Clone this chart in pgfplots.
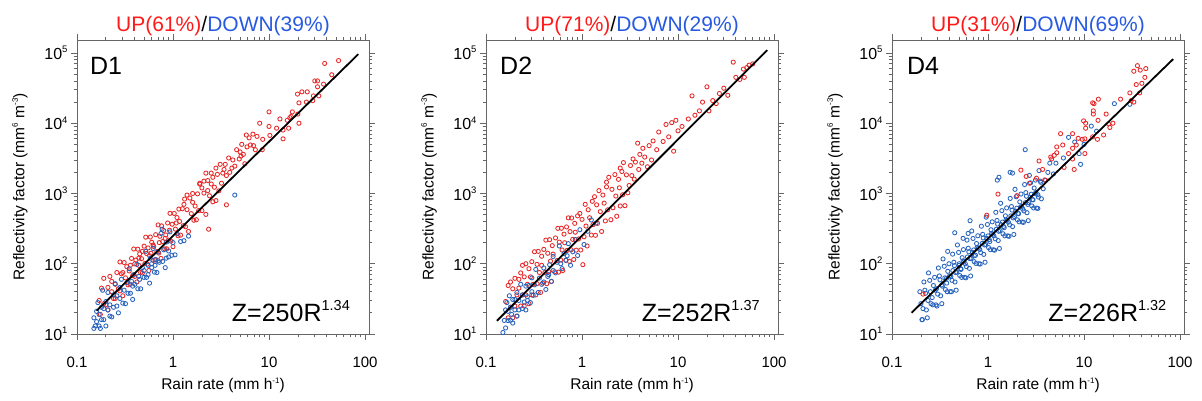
\documentclass[border=0pt]{standalone}
\usepackage{fontspec}
\setmainfont{Liberation Sans}
\usepackage{pgfplots}
\pgfplotsset{compat=1.18}
\definecolor{ptred}{RGB}{232,40,40}
\definecolor{ptblue}{RGB}{40,100,190}
\definecolor{tred}{RGB}{255,25,25}
\definecolor{tblue}{RGB}{40,90,225}
\newcommand{\supn}[1]{\raisebox{0.42em}{\fontsize{9.5}{9.5}\selectfont #1}}
\newcommand{\supl}[1]{\raisebox{0.42em}{\fontsize{8}{8}\selectfont #1}}
\newcommand{\supe}[1]{\raisebox{0.42em}{\fontsize{14.5}{14.5}\selectfont #1}}
\pgfplotsset{
  every axis/.append style={
    scale only axis, width=292pt, height=294pt,
    xmin=0.1, xmax=110, ymin=10, ymax=1.53e5,
    clip mode=individual,
    axis line style={draw=black!60, line width=0.9pt},
    tick style={black!60, line width=0.8pt},
    tick align=outside, major tick length=6pt, minor tick length=3.5pt,
    xtick={0.1,1,10,100}, xticklabels={0.1,1,10,100},
    ytick={10,100,1000,10000,100000},
    yticklabels={10\supn{1},10\supn{2},10\supn{3},10\supn{4},10\supn{5}},
    minor xtick={0.2,0.3,0.4,0.5,0.6,0.7,0.8,0.9,2,3,4,5,6,7,8,9,20,30,40,50,60,70,80,90},
    minor ytick={20,30,40,50,60,70,80,90,200,300,400,500,600,700,800,900,2000,3000,4000,5000,6000,7000,8000,9000,20000,30000,40000,50000,60000,70000,80000,90000},
    xticklabel style={font=\fontsize{15}{17}\selectfont, yshift=-14pt},
    yticklabel style={font=\fontsize{16}{18}\selectfont},
    xlabel={Rain rate (mm h\supl{-1})},
    ylabel={Reflectivity factor (mm\supl{6} m\supl{-3})},
    label style={font=\fontsize{15.5}{18}\selectfont},
    xlabel style={at={(axis description cs:0.5,-0.175)}, anchor=center},
    ylabel style={at={(axis description cs:-0.195,0.5)}, anchor=center},
  },
  upts/.style={only marks, mark=o, mark size=2.1pt, color=ptred, mark options={line width=0.85pt}},
  dpts/.style={only marks, mark=o, mark size=2.1pt, color=ptblue, mark options={line width=0.85pt}},
  fitl/.style={black, line width=1.8pt},
}
\begin{document}
\begin{tikzpicture}
\useasboundingbox (0,0) rectangle (1202pt,401pt);
% ---------------- D1 ----------------
\begin{loglogaxis}[at={(77pt,67pt)}, anchor=south west]
\addplot[upts] coordinates {
(0.17,30) (0.175,19) (0.18,45) (0.19,27) (0.19,62) (0.20,26) (0.21,46) (0.21,22) (0.22,66) (0.23,40) (0.23,56) (0.24,32) (0.25,51) (0.25,32) (0.26,75) (0.27,44) (0.28,106) (0.28,41) (0.29,72) (0.30,35)
(0.31,104) (0.32,63) (0.33,91) (0.34,50) (0.35,79) (0.36,51) (0.37,119) (0.38,68) (0.39,162) (0.40,66) (0.41,113) (0.42,55) (0.43,161) (0.44,95) (0.45,138) (0.46,75) (0.47,118) (0.48,74) (0.50,178) (0.51,101)
(0.52,239) (0.54,99) (0.55,168) (0.56,80) (0.58,240) (0.59,141) (0.60,202) (0.62,112) (0.63,176) (0.65,113) (0.66,259) (0.68,149) (0.70,357) (0.71,142) (0.73,246) (0.75,119) (0.76,346) (0.78,207) (0.80,298) (0.82,163)
(0.84,257) (0.86,163) (0.88,380) (0.90,217) (0.93,522) (0.95,210) (0.98,365) (1.0,175) (1.03,520) (1.06,311) (1.1,454) (1.13,250) (1.17,400) (1.2,255) (1.25,607) (1.28,348) (1.32,833) (1.35,336) (1.4,588) (1.45,288)
(1.5,860) (1.55,517) (1.6,750) (1.65,416) (1.7,662) (1.75,423) (1.8,988) (1.85,570) (1.9,1357) (2.0,570) (2.1,1014) (2.2,504) (2.3,1528) (2.4,929) (2.5,1365) (2.6,763) (2.7,1227) (2.8,793) (2.9,1872) (3.0,1090)
(2.5,1950) (2.2,1950) (2.35,310) (3.6,690) (0.36,95) (0.44,120) (0.53,140) (0.62,185) (0.72,200) (0.83,230) (0.92,300) (1.08,380) (0.57,130) (0.48,150) (0.40,100) (0.30,75)
(1.6,1000) (1.9,1400) (2.1,1500) (2.3,1100) (2.6,1700) (2.8,2300) (3.2,1400) (3.5,2600) (3.8,3200) (4.2,3000) (4.6,4200) (5.2,5000) (5.8,6800) (6.2,6200) (6.8,7000) (7.5,6500) (1.3,700) (1.4,950) (1.15,600) (2.0,1200)
(3.1,2600) (3.3,1950) (3.4,2200) (3.6,1800) (3.9,2000) (4.1,2300) (4.4,2450) (4.9,3100) (5.0,3900) (5.1,3400) (5.4,3600) (5.6,2650) (5.9,4600) (6.4,4900) (6.9,4800) (7.2,4200) (8.0,10000) (8.5,4200) (8.6,5900) (10,14500) (10,9000) (10.2,6700) (12,8500) (13,11500) (14,8000) (14,6000) (15.5,11000) (16,8500) (16.5,12000) (17,12500) (17.5,14500) (19.8,26000) (20,13500) (20.5,19500) (20.5,10000) (22,28000) (24.5,20000) (25,28000) (28.5,21000) (29,24500) (30,40000) (32,40000) (32,33000) (33,24500) (37,36000) (38,71000) (45,49000) (53,78000)
};
\addplot[dpts] coordinates {
(0.15,12) (0.15,17) (0.155,13) (0.16,21) (0.16,15) (0.165,28) (0.17,13) (0.17,19) (0.175,12) (0.18,24) (0.18,16) (0.185,42) (0.19,16) (0.19,23) (0.20,13) (0.20,29) (0.21,22) (0.21,39) (0.22,18) (0.22,26)
(0.23,17.5) (0.24,36) (0.24,24) (0.25,52) (0.26,25) (0.26,35) (0.27,20) (0.28,46) (0.28,32) (0.29,60) (0.30,27.5) (0.31,42) (0.32,27) (0.33,54) (0.34,38) (0.35,85) (0.36,38) (0.37,56) (0.38,31) (0.39,70)
(0.40,51) (0.42,98) (0.43,44) (0.44,66) (0.46,44) (0.48,88) (0.50,64) (0.52,150) (0.53,64) (0.55,95) (0.57,53) (0.58,120) (0.60,88) (0.62,165) (0.64,76) (0.66,115) (0.68,75) (0.70,147) (0.72,105) (0.75,270)
(0.78,108) (0.80,158) (0.83,88) (0.86,204) (0.90,152) (0.93,284) (0.97,132) (1.0,200) (1.05,134) (1.1,270) (1.2,207) (1.3,213) (1.45,247)
(0.77,310) (4.4,950) (0.45,60) (0.55,70) (0.65,95) (0.85,120) (0.50,80) (0.38,48) (0.60,100) (0.70,110) (0.90,125)
};
\addplot[fitl] coordinates {(0.16,21.4) (85,96000)};
\node[anchor=base west, inner sep=0, font=\fontsize{25}{30}\selectfont] at (rel axis cs:0.0445,0.881) {D1};
\node[anchor=base east, inner sep=0, font=\fontsize{25}{30}\selectfont] at (rel axis cs:0.935,0.044) {Z=250R\supe{1.34}};
\node[anchor=base, inner sep=0, yshift=9pt, font=\fontsize{21}{25}\selectfont] at (rel axis cs:0.5,1) {\textcolor{tred}{UP(61\%)}/\textcolor{tblue}{DOWN(39\%)}};
\end{loglogaxis}
% ---------------- D2 ----------------
\begin{loglogaxis}[at={(486pt,67pt)}, anchor=south west]
\addplot[upts] coordinates {
(0.16,29) (0.17,17) (0.17,49) (0.18,24) (0.18,55) (0.19,17) (0.19,44) (0.20,25) (0.20,62) (0.21,36) (0.21,18) (0.22,60) (0.22,45) (0.23,25) (0.23,74) (0.24,36) (0.24,95) (0.25,25) (0.25,65) (0.26,36)
(0.26,100) (0.27,51) (0.28,27) (0.28,85) (0.29,65) (0.30,36) (0.30,107) (0.31,51) (0.32,148) (0.33,36) (0.34,98) (0.34,52) (0.35,150) (0.36,75) (0.37,39) (0.38,128) (0.38,95) (0.39,53) (0.40,160) (0.41,75)
(0.42,217) (0.43,52) (0.44,141) (0.45,77) (0.46,220) (0.47,109) (0.48,56) (0.49,181) (0.50,137) (0.52,77) (0.53,233) (0.55,111) (0.56,319) (0.57,76) (0.58,203) (0.60,113) (0.61,320) (0.62,157) (0.63,80) (0.65,264)
(0.66,199) (0.68,112) (0.69,334) (0.70,155) (0.72,450) (0.74,108) (0.75,287) (0.77,158) (0.78,448) (0.80,222) (0.82,115) (0.84,376) (0.85,281) (0.87,156) (0.90,480) (0.92,225) (0.95,520) (0.97,157) (1.0,428) (1.05,242)
(1.08,700) (1.1,344) (1.13,179) (1.16,587) (1.2,452) (1.25,256) (1.28,774) (1.3,360) (1.35,900) (1.38,254) (1.42,690) (1.45,376) (1.5,1098) (1.55,551) (1.6,288) (1.65,950) (1.7,729) (1.75,407) (1.8,1241) (1.85,585)
(1.9,1700) (2.0,423) (2.05,1146) (2.1,627) (2.2,1858) (2.25,919) (2.3,474) (2.4,1590) (2.45,1205) (2.5,664) (2.6,2053) (2.65,958) (2.7,2752) (2.8,671) (2.9,1843) (3.0,1022) (1.02,97) (1.8,1450) (2.5,2300)
(3.1,1300) (3.2,2500) (3.3,1800) (3.4,3100) (3.5,1600) (3.6,2800) (3.8,5200) (3.9,2200) (4.0,3600) (4.2,2700) (4.3,4400) (4.5,3300) (4.8,2400) (5.0,4800) (5.3,3000) (5.5,5600) (6.0,4200) (6.3,7500) (7.0,5500) (7.5,9600) (8.0,6400) (8.6,10200) (9.0,4000) (9.5,11000) (10,7800)
(11,9000) (12.8,11500) (14,24500) (15,13000) (16.7,15000) (18,20000) (20,33000) (21,15000) (23,21000) (25,19000) (27,26500) (30,31500) (33,25000) (37.6,74000) (40,45000) (44,42000) (48,59000) (49,45000) (52,62000) (55,67000) (60,70000)
};
\addplot[dpts] coordinates {
(0.15,10.5) (0.155,15.6) (0.16,22) (0.16,12.2) (0.165,28) (0.17,15.5) (0.17,21) (0.175,35) (0.18,15.7) (0.18,24) (0.185,19) (0.19,31) (0.19,14.3) (0.20,22) (0.20,31) (0.21,18) (0.21,39) (0.22,22) (0.22,30) (0.23,51)
(0.24,23) (0.24,36) (0.25,28.5) (0.26,48) (0.26,22) (0.27,34) (0.28,49) (0.29,28) (0.30,63) (0.31,35.5) (0.32,50) (0.33,83) (0.35,39) (0.36,62.5) (0.38,51) (0.40,87) (0.42,43) (0.44,66) (0.46,97) (0.48,56)
(0.50,127) (0.53,74) (0.55,105) (0.58,179) (0.62,85) (0.65,139) (0.68,112) (0.72,193) (0.76,95) (0.80,148) (0.85,221) (0.9,131) (0.95,305) (1.05,188) (1.15,290) (1.25,420) (1.4,378)
(0.30,40) (0.40,55) (0.50,80) (0.60,100) (0.70,130) (0.27,30) (0.45,70)
};
\addplot[fitl] coordinates {(0.13,15.4) (85,110000)};
\node[anchor=base west, inner sep=0, font=\fontsize{25}{30}\selectfont] at (rel axis cs:0.048,0.881) {D2};
\node[anchor=base east, inner sep=0, font=\fontsize{25}{30}\selectfont] at (rel axis cs:0.938,0.044) {Z=252R\supe{1.37}};
\node[anchor=base, inner sep=0, yshift=9pt, font=\fontsize{21}{25}\selectfont] at (rel axis cs:0.5,1) {\textcolor{tred}{UP(71\%)}/\textcolor{tblue}{DOWN(29\%)}};
\end{loglogaxis}
% ---------------- D4 ----------------
\begin{loglogaxis}[at={(892pt,67pt)}, anchor=south west]
\addplot[dpts] coordinates {
(0.20,27) (0.205,16) (0.195,40) (0.21,23) (0.215,55) (0.207,16) (0.224,38) (0.228,22) (0.22,42) (0.237,30) (0.24,74) (0.233,17)
(0.251,40) (0.255,27) (0.247,58) (0.266,26) (0.27,49) (0.262,33) (0.282,42) (0.287,26) (0.278,64) (0.299,37) (0.304,87) (0.294,25)
(0.316,59) (0.321,35) (0.311,67) (0.335,48) (0.34,117) (0.33,27) (0.355,63) (0.36,43) (0.35,92) (0.376,40) (0.381,78) (0.371,53)
(0.398,67) (0.404,40) (0.392,100) (0.422,58) (0.428,137) (0.416,40) (0.447,94) (0.453,55) (0.441,105) (0.473,76) (0.48,185) (0.466,42)
(0.501,100) (0.508,68) (0.494,145) (0.531,64) (0.538,122) (0.524,83) (0.562,106) (0.57,64) (0.555,159) (0.596,91) (0.604,217) (0.588,63)
(0.631,148) (0.64,86) (0.622,166) (0.668,120) (0.677,293) (0.659,67) (0.708,157) (0.718,107) (0.698,229) (0.750,101) (0.76,194) (0.74,132)
(0.794,167) (0.805,100) (0.783,250) (0.841,144) (0.853,342) (0.829,99) (0.891,233) (0.903,136) (0.879,262) (0.944,188) (0.957,460) (0.931,105)
(1.0,249) (1.014,170) (0.986,362) (1.059,159) (1.074,305) (1.044,207) (1.122,263) (1.138,158) (1.106,395) (1.189,227) (1.206,540) (1.172,156)
(1.259,367) (1.277,214) (1.241,413) (1.334,297) (1.353,726) (1.315,165) (1.413,392) (1.433,267) (1.393,570) (1.496,250) (1.517,481) (1.475,327)
(1.585,415) (1.607,249) (1.563,623) (1.679,358) (1.703,851) (1.655,246) (1.778,580) (1.803,338) (1.753,652) (1.884,469) (1.911,1146) (1.857,261)
(1.995,618) (2.023,422) (1.967,899) (2.113,395) (2.143,759) (2.083,516) (2.239,655) (2.27,393) (2.207,983) (2.371,565) (2.404,1341) (2.338,388)
(2.512,914) (2.547,533) (2.477,1029) (2.661,740) (2.698,1808) (2.624,411) (2.818,976) (2.857,665) (2.779,1419) (2.985,622) (3.027,1196) (2.943,813)
(3.162,1033) (3.206,620) (3.118,1550) (3.35,891) (3.397,2117) (3.303,613) (3.548,1442) (3.598,841) (3.758,1167) (3.981,1540)
(1.25,1550) (1.3,1700) (1.7,2000) (1.8,1950) (2.44,4200) (3.5,1500) (4.4,2700) (5.1,2700) (6.1,3200) (6.9,6300) (8.0,5400) (8.9,3700) (9.2,2600) (10,5000) (11.9,9100) (13.5,7700) (20.7,19000) (30,18600) (4.2,2000) (4.8,1900)
(0.29,44) (0.33,50) (0.37,62) (0.41,66) (0.43,80) (0.46,75) (0.50,95) (0.52,85) (0.55,110) (0.58,100) (0.61,125) (0.65,118) (0.69,145) (0.72,130) (0.77,170) (0.82,160) (0.87,195) (0.92,185) (0.97,230) (1.03,220)
(1.09,270) (1.15,250) (1.22,310) (1.29,290) (1.37,360) (1.45,340) (1.54,420) (1.63,390) (1.73,480) (1.83,450) (1.94,560) (2.05,520) (2.18,640) (2.3,600) (2.45,740) (2.6,700) (2.75,880) (2.9,820) (3.1,1000) (3.3,960)
(0.45,276) (0.65,410) (0.55,230) (0.38,150) (0.62,270)
};
\addplot[upts] coordinates {
(0.21,37) (0.97,490) (1.27,980) (2.0,930) (2.2,2150) (2.5,1750) (2.7,1400) (3.2,1650) (3.4,2900) (3.7,2200) (3.9,1560) (4.5,3300) (4.6,3100) (4.9,3500) (5.2,3800) (5.2,4600) (5.7,7100) (6.0,4900) (6.2,2350) (6.9,3700) (7.6,4400) (7.6,3100) (7.6,7100) (7.9,2200) (8.3,4900) (8.7,6100) (9.6,5900) (9.9,10800) (10.2,3700) (10.2,6000) (10.4,10000) (10.4,8500) (12.3,6400) (12.3,19500) (12.5,15000) (12.5,13500) (12.7,19000) (13.8,5900) (14,11000) (14.1,22000) (16,6800) (17,13500) (18,9800) (18.6,8700) (20,10000) (24,22000) (30,27000) (31,21000) (33,20000) (33,55000) (35,35500) (36,66000) (38,27000) (38.5,57000) (40,37000) (43,45000) (44,60000)
};
\addplot[fitl] coordinates {(0.16,20.1) (85,82000)};
\node[anchor=base west, inner sep=0, font=\fontsize{25}{30}\selectfont] at (rel axis cs:0.051,0.881) {D4};
\node[anchor=base east, inner sep=0, font=\fontsize{25}{30}\selectfont] at (rel axis cs:0.94,0.044) {Z=226R\supe{1.32}};
\node[anchor=base, inner sep=0, yshift=9pt, font=\fontsize{21}{25}\selectfont] at (rel axis cs:0.5,1) {\textcolor{tred}{UP(31\%)}/\textcolor{tblue}{DOWN(69\%)}};
\end{loglogaxis}
\end{tikzpicture}
\end{document}
